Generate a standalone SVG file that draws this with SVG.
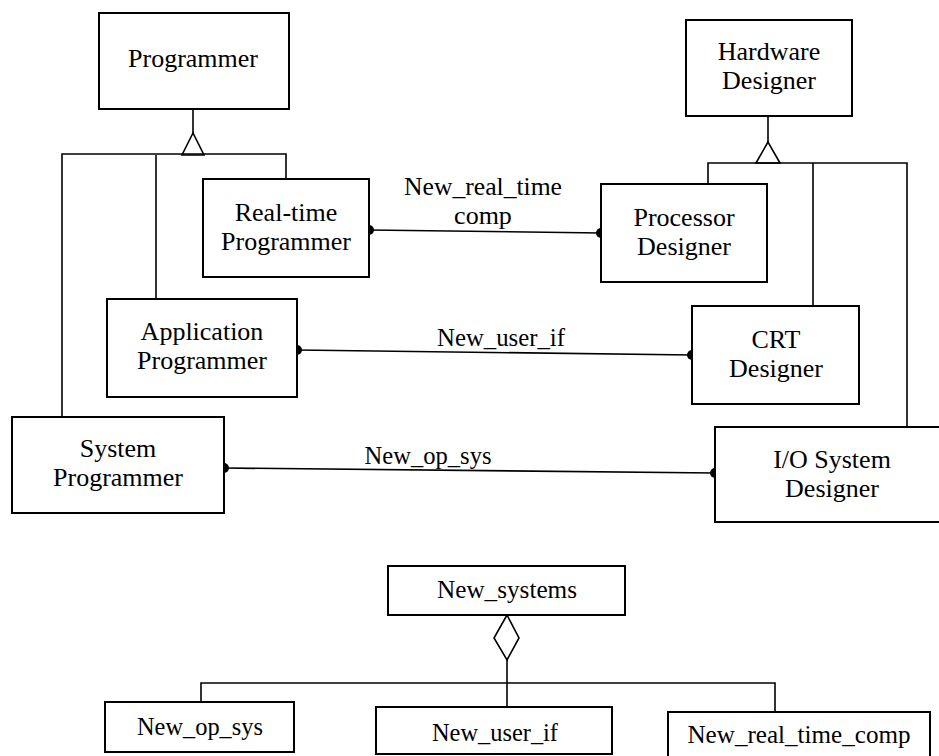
<svg xmlns="http://www.w3.org/2000/svg" width="939" height="756" viewBox="0 0 939 756">
<style>
.box{fill:#fff;stroke:#000;stroke-width:2}
.ln{fill:none;stroke:#000;stroke-width:1.6}
.dot{fill:#000}
text{font-family:"Liberation Serif","Times New Roman",serif;font-size:26px;fill:#000;text-anchor:middle}
</style>
<rect width="939" height="756" fill="#fff"/>
<g id="connectors">
  <path class="ln" d="M193,109 V133"/>
  <path class="ln" d="M193,133 L182,155 H204 Z" fill="#fff"/>
  <path class="ln" d="M62,416 V154 H286 V179"/>
  <path class="ln" d="M156,155 V299"/>
  <path class="ln" d="M768,116 V142"/>
  <path class="ln" d="M768,142 L756,163 H780 Z" fill="#fff"/>
  <path class="ln" d="M708,184 V163 H907 V427"/>
  <path class="ln" d="M813,163 V306"/>
  <line class="ln" x1="369" y1="230" x2="601" y2="233"/>
  <circle class="dot" cx="369" cy="230" r="5"/>
  <circle class="dot" cx="601" cy="233" r="5"/>
  <text x="483" y="195"><tspan x="483" y="195" textLength="158" lengthAdjust="spacingAndGlyphs">New_real_time</tspan><tspan x="483" y="224">comp</tspan></text>
  <line class="ln" x1="297" y1="350" x2="692" y2="355"/>
  <circle class="dot" cx="297" cy="350" r="5"/>
  <circle class="dot" cx="692" cy="355" r="5"/>
  <text x="501" y="346" textLength="128" lengthAdjust="spacingAndGlyphs">New_user_if</text>
  <line class="ln" x1="224" y1="468" x2="715" y2="473"/>
  <circle class="dot" cx="224" cy="468" r="5"/>
  <circle class="dot" cx="715" cy="473" r="5"/>
  <text x="428" y="464" textLength="127" lengthAdjust="spacingAndGlyphs">New_op_sys</text>
  <path class="ln" d="M507,615 L519,638 L507,660 L494,638 Z" fill="#fff"/>
  <path class="ln" d="M507,660 V707"/>
  <path class="ln" d="M201,702 V683 H775 V712"/>
</g>
<g id="programmer">
  <rect class="box" x="99" y="13" width="190" height="96"/>
  <text x="193" y="67">Programmer</text>
</g>
<g id="realtime-programmer">
  <rect class="box" x="203" y="179" width="166" height="98"/>
  <text x="286" y="221"><tspan x="286" y="221">Real-time</tspan><tspan x="286" y="250">Programmer</tspan></text>
</g>
<g id="hardware-designer">
  <rect class="box" x="686" y="20" width="166" height="96"/>
  <text x="769" y="60"><tspan x="769" y="60">Hardware</tspan><tspan x="769" y="89">Designer</tspan></text>
</g>
<g id="processor-designer">
  <rect class="box" x="601" y="184" width="166" height="98"/>
  <text x="684" y="226"><tspan x="684" y="226">Processor</tspan><tspan x="684" y="255">Designer</tspan></text>
</g>
<g id="application-programmer">
  <rect class="box" x="107" y="299" width="190" height="98"/>
  <text x="202" y="340"><tspan x="202" y="340">Application</tspan><tspan x="202" y="369">Programmer</tspan></text>
</g>
<g id="crt-designer">
  <rect class="box" x="692" y="306" width="167" height="98"/>
  <text x="776" y="348"><tspan x="776" y="348">CRT</tspan><tspan x="776" y="377">Designer</tspan></text>
</g>
<g id="system-programmer">
  <rect class="box" x="12" y="417" width="212" height="96"/>
  <text x="118" y="457"><tspan x="118" y="457">System</tspan><tspan x="118" y="486">Programmer</tspan></text>
</g>
<g id="io-system-designer">
  <rect class="box" x="715" y="427" width="234" height="95"/>
  <text x="832" y="468"><tspan x="832" y="468">I/O System</tspan><tspan x="832" y="497">Designer</tspan></text>
</g>
<g id="new-systems">
  <rect class="box" x="388" y="566" width="237" height="49"/>
  <text x="507" y="598" textLength="140" lengthAdjust="spacingAndGlyphs">New_systems</text>
</g>
<g id="new-op-sys">
  <rect class="box" x="105" y="702" width="189" height="50"/>
  <text x="200" y="735" textLength="126" lengthAdjust="spacingAndGlyphs">New_op_sys</text>
</g>
<g id="new-user-if">
  <rect class="box" x="376" y="707" width="236" height="47"/>
  <text x="495" y="741" textLength="126" lengthAdjust="spacingAndGlyphs">New_user_if</text>
</g>
<g id="new-real-time-comp">
  <rect class="box" x="668" y="712" width="262" height="60"/>
  <text x="799" y="743" textLength="223" lengthAdjust="spacingAndGlyphs">New_real_time_comp</text>
</g>
</svg>
